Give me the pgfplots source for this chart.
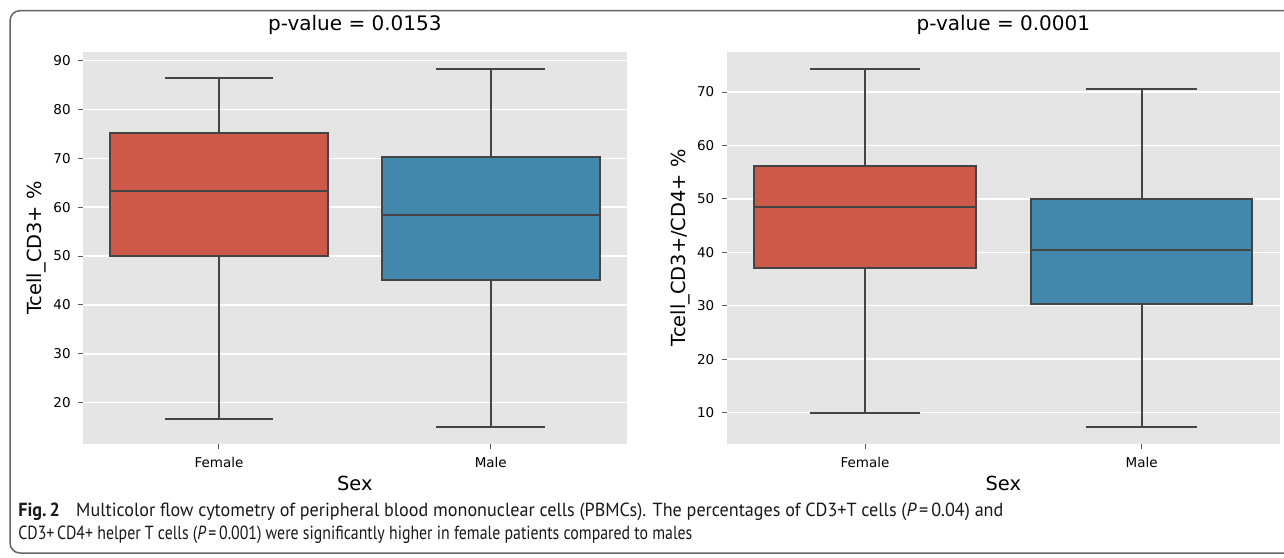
\documentclass[border=0pt]{standalone}
\usepackage{fontspec}
\setmainfont{DejaVu Sans}
\newfontfamily\capfont{PT Sans}
\usepackage{graphicx}
\usepackage{pgfplots}
\pgfplotsset{compat=1.18}
\usepgfplotslibrary{statistics}

\definecolor{bggray}{HTML}{E5E5E5}
\definecolor{femred}{RGB}{205,90,72}
\definecolor{maleblue}{RGB}{68,135,173}
\definecolor{edgegray}{RGB}{68,68,68}
\definecolor{framegray}{RGB}{100,100,100}

\pgfplotsset{
  ggbox/.style={
    scale only axis,
    width=271.85pt, height=196.3pt,
    anchor=south west,
    boxplot/draw direction=y,
    xmin=-0.5, xmax=1.5,
    xtick={0,1}, xticklabels={Female,Male},
    axis background/.style={fill=bggray},
    axis line style={draw=none},
    ymajorgrids, grid style={white, line width=0.7pt},
    tick align=outside, major tick length=2.5pt,
    tick style={black!65, line width=0.5pt},
    xtick pos=bottom, ytick pos=left,
    /pgf/number format/assume math mode=true,
    ticklabel style={font=\fontsize{6.75}{8}\selectfont, inner sep=0pt},
    yticklabel style={xshift=-3.5pt},
    xticklabel style={yshift=-3.7pt},
    title style={font=\fontsize{10}{12}\selectfont, at={(0.5,1)}, anchor=base, yshift=4.5pt},
    xlabel style={font=\fontsize{9.7}{11}\selectfont, at={(axis description cs:0.5,0)}, anchor=base, yshift=-22.85pt},
  },
  sbbox/.style={draw=edgegray, line width=1pt, solid},
}

\begin{document}
\begin{tikzpicture}
\useasboundingbox (0,0) rectangle (642pt,278.5pt);
\clip (0,0) rectangle (642pt,278.5pt);
\draw[framegray, line width=0.75pt, rounded corners=5pt] (5pt,2pt) rectangle (700pt,273.15pt);

% left panel: Tcell_CD3+
\begin{axis}[ggbox, at={(41.5pt,56.35pt)},
  ymin=11.5, ymax=91.8, ytick={20,30,...,90},
  title={p-value = 0.0153}, xlabel={Sex}]
\addplot[sbbox, fill=femred, boxplot prepared={
  lower whisker=16.6, lower quartile=50.0, median=63.3,
  upper quartile=75.2, upper whisker=86.5,
  draw position=0, box extend=0.8, whisker extend=0.4}]
  coordinates {};
\addplot[sbbox, fill=maleblue, boxplot prepared={
  lower whisker=14.95, lower quartile=45.1, median=58.5,
  upper quartile=70.2, upper whisker=88.2,
  draw position=1, box extend=0.8, whisker extend=0.4}]
  coordinates {};
\end{axis}

% right panel: Tcell_CD3+/CD4+
\begin{axis}[ggbox, at={(363.35pt,56.35pt)}, width=276.65pt,
  ymin=4.05, ymax=77.55, ytick={10,20,...,70},
  title={p-value = 0.0001}, xlabel={Sex}]
\addplot[sbbox, fill=femred, boxplot prepared={
  lower whisker=9.9, lower quartile=37.1, median=48.4,
  upper quartile=56.2, upper whisker=74.3,
  draw position=0, box extend=0.8, whisker extend=0.4}]
  coordinates {};
\addplot[sbbox, fill=maleblue, boxplot prepared={
  lower whisker=7.25, lower quartile=30.4, median=40.4,
  upper quartile=50.0, upper whisker=70.6,
  draw position=1, box extend=0.8, whisker extend=0.4}]
  coordinates {};
\end{axis}

% y labels
\node[rotate=90, anchor=base, inner sep=0pt, font=\fontsize{9.7}{11}\selectfont]
  at (20.85pt,154.5pt) {Tcell\_CD3+ \%};
\node[rotate=90, anchor=base, inner sep=0pt, font=\fontsize{9.7}{11}\selectfont]
  at (342.5pt,154.5pt) {Tcell\_CD3+/CD4+ \%};

% caption
\node[anchor=base west, inner sep=0pt, text=black!90] at (9pt,20.25pt)
  {\resizebox{492.5pt}{\height}{\capfont\fontsize{9.5}{11}\selectfont
   \textbf{Fig.\,2}\hspace{0.9em}Multicolor flow cytometry of peripheral blood mononuclear cells (PBMCs). The percentages of CD3+T cells ({\itshape P}\,=\,0.04) and}};
\node[anchor=base west, inner sep=0pt, text=black!90] at (9pt,8.75pt)
  {\resizebox{337pt}{\height}{\capfont\fontsize{9.5}{11}\selectfont
   CD3+\,CD4+ helper T cells ({\itshape P}\,=\,0.001) were significantly higher in female patients compared to males}};
\end{tikzpicture}
\end{document}
